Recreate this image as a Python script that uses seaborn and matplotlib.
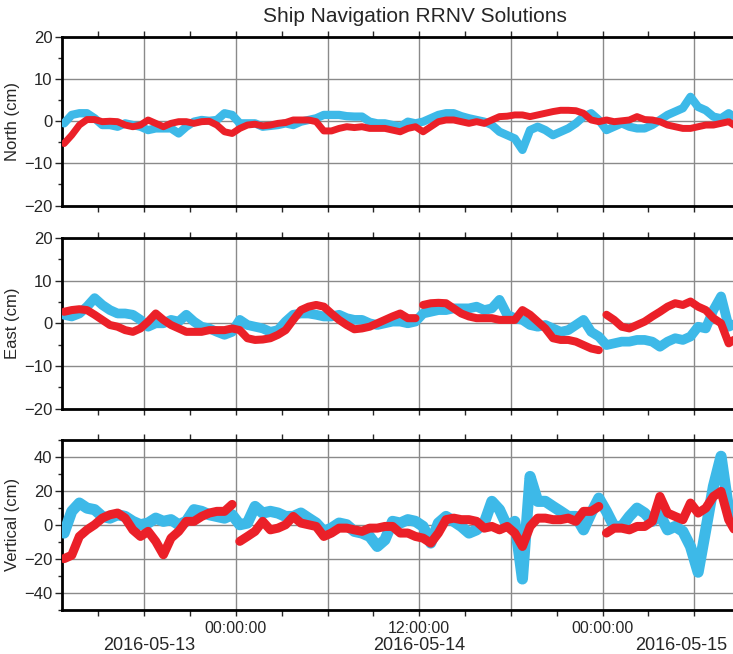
import matplotlib
matplotlib.use('Agg')
import matplotlib.pyplot as plt
import matplotlib.dates as mdates
import matplotlib.transforms as mtrans
from matplotlib.ticker import MultipleLocator, FuncFormatter
import seaborn as sns
import pandas as pd
import numpy as np

# samples every 30 min
times = pd.date_range('2016-05-13 12:45', periods=89, freq='30min')

# places where the red solution restarts with a jump, per panel
red_breaks = [[],
              ['2016-05-14 12:00', '2016-05-15 00:00'],
              ['2016-05-14 00:00', '2016-05-15 00:00']]

north_cyan = [-0.5, 1.5, 1.9, 1.9, 0.7, -0.9, -0.9, -1.3, -0.5, -0.9, -1.3, -2.1, -1.7, -1.7, -1.7,
              -2.9, -1.3, -0.1, 0.3, 0.1, 0.3, 1.9, 1.5, -0.5, -0.5, -0.5, -1.3, -1.1, -0.9, -0.5,
              -0.9, -0.1, 0.3, 0.7, 1.5, 1.5, 1.5, 1.2, 1.1, 1.1, -0.1, -0.5, -0.5, -0.9, -1.3,
              -0.1, -0.5, -0.1, 0.7, 1.5, 1.9, 1.9, 1.2, 0.7, 0.3, -0.1, -0.9, -2.5, -3.3, -4.1,
              -6.8, -2.1, -1.3, -2.1, -3.3, -2.5, -1.7, -0.5, 1.1, 1.9, 0.3, -2.1, -1.3, -0.5, -1.3,
              -1.7, -1.7, -0.9, 0.3, 1.5, 2.3, 3.1, 5.8, 3.4, 2.6, 1.1, 0.7, 1.9, 0.7]
north_red = [-5.3, -3.3, -0.9, 0.4, 0.4, -0.1, 0.0, -0.1, -0.9, -1.3, -0.9, 0.3, -0.5, -1.3, -0.5,
             -0.1, -0.1, -0.5, -0.1, 0.0, -0.9, -2.5, -2.9, -1.7, -0.9, -0.7, -1.1, -0.9, -0.5, -0.3,
             0.3, 0.3, 0.3, -0.1, -2.3, -2.3, -1.7, -1.3, -1.5, -1.3, -1.7, -1.7, -1.7, -2.1, -2.5,
             -1.7, -1.3, -2.5, -1.3, -0.1, 0.3, 0.3, -0.1, -0.5, -0.1, -0.5, 0.3, 1.1, 1.2, 1.5,
             1.5, 1.1, 1.5, 1.9, 2.3, 2.6, 2.6, 2.5, 1.9, 0.3, -0.1, 0.3, -0.1, 0.1, 0.3,
             1.1, 0.4, 0.3, -0.1, -0.9, -1.3, -1.7, -1.7, -1.3, -0.9, -0.9, -0.5, -0.1, -1.3]

east_cyan = [2.0, 1.6, 2.3, 3.9, 5.9, 4.3, 3.1, 2.3, 2.3, 2.0, 0.8, -0.8, 0.0, 0.0, 0.8,
             0.4, 2.0, 0.4, -0.8, -1.2, -2.0, -2.7, -2.0, 0.8, -0.4, -0.8, -1.2, -2.0, -1.6, 0.4,
             2.0, 2.3, 2.3, 2.0, 1.6, 1.6, 2.0, 1.2, 0.8, 0.8, 0.0, -0.4, 0.0, 0.4, 0.4,
             0.0, 0.4, 2.3, 2.7, 3.1, 3.1, 3.5, 3.5, 3.5, 3.9, 3.1, 3.5, 5.5, 2.0, 1.2,
             0.8, -0.4, -0.8, -0.4, -1.2, -2.0, -1.6, -0.4, 0.8, -2.0, -3.1, -5.1, -4.7, -4.3, -4.3,
             -3.9, -3.9, -4.3, -5.5, -4.3, -3.5, -3.9, -3.1, -0.8, -1.2, 3.1, 6.3, -0.8, 0.0]
east_red = [2.7, 3.1, 3.3, 3.1, 2.0, 0.8, -0.4, -0.8, -1.6, -2.0, -1.2, 0.4, 2.3, 0.8, -0.4,
            -1.2, -2.0, -2.0, -2.0, -1.6, -1.6, -1.6, -1.2, -1.6, -3.5, -3.9, -3.8, -3.5, -2.7, -1.6,
            0.8, 3.1, 3.9, 4.3, 3.9, 2.3, 0.8, -0.4, -1.4, -1.2, -0.8, 0.0, 0.8, 1.6, 2.3,
            1.2, 1.2, 4.3, 4.7, 4.8, 4.7, 3.5, 2.3, 1.6, 1.2, 1.2, 1.2, 0.8, 0.8, 0.8,
            3.1, 2.0, 0.4, -1.2, -3.5, -3.9, -3.9, -4.3, -5.1, -5.9, -6.3, 2.0, 0.8, -0.8, -1.2,
            -0.4, 0.4, 1.6, 2.7, 3.9, 4.7, 4.3, 5.1, 3.9, 3.1, 1.2, 0.0, -4.7, -3.5]

vert_cyan = [-4.9, 7.9, 12.8, 9.8, 8.9, 4.9, 3.9, 5.9, 4.9, 2.0, 0.0, 1.0, 3.9, 2.0, 3.0,
             0.0, 2.0, 8.9, 7.9, 5.9, 4.9, 3.9, 5.9, 0.0, 1.0, 10.8, 6.9, 7.9, 6.9, 4.9,
             4.9, 6.9, 3.9, 1.0, -3.9, -2.0, 1.0, 0.0, -3.9, -4.9, -6.9, -12.8, -8.9, 2.0, 1.0,
             3.0, 2.0, -1.0, -10.8, 1.0, 4.9, 2.0, -1.0, -4.9, -3.0, 1.0, 13.8, 8.9, -1.0, 2.0,
             -32.0, 28.5, 13.8, 13.8, 10.8, 7.9, 4.9, 4.9, -3.0, 6.9, 15.7, 7.9, -1.0, -1.0, 4.9,
             9.8, 6.9, 2.0, 5.9, -3.0, -1.0, -3.9, -12.8, -28.0, -3.0, 22.6, 40.4, 8.9, -1.0]
vert_red = [-20.0, -18.0, -6.9, -3.0, 0.0, 3.9, 5.9, 6.9, 3.9, -3.0, -6.9, -3.9, -9.8, -17.7, -7.9,
            -3.9, 2.0, 2.0, 4.9, 6.9, 7.9, 7.9, 12.0, -9.8, -6.9, -3.9, 2.0, -3.0, -2.0, 0.0,
            4.9, 1.0, 0.0, -1.0, -6.9, -4.9, -2.0, -2.0, -3.0, -3.9, -2.0, -2.0, -1.0, -1.0, -4.9,
            -4.9, -6.9, -7.9, -10.8, -4.9, 3.0, 3.9, 3.0, 3.0, 2.0, -2.0, -1.0, -3.0, -1.0, -4.9,
            -12.8, -1.0, 3.9, 3.9, 3.0, 3.0, 3.9, 2.0, 7.9, 7.9, 10.8, -4.9, -2.0, -2.0, -3.0,
            -1.0, -1.0, 2.0, 16.7, 6.9, 4.9, 3.0, 12.8, 6.9, 9.8, 16.7, 19.7, 3.0, -4.9]

ylabels = ['North (cm)', 'East (cm)', 'Vertical (cm)']
ylims = [(-20, 20), (-20, 20), (-50, 50)]
CYAN = '#3DB9E8'
RED = '#EB2028'

sns.set_style('white')
plt.rcParams['font.family'] = ['Liberation Sans', 'DejaVu Sans']

fig = plt.figure(figsize=(7.33, 6.54), dpi=100)
W, H = 733.0, 654.0
x0, x1 = 62.3, 760.0
boxes = [(37.0, 205.5), (238.0, 408.6), (440.0, 609.5)]
axes = [fig.add_axes([x0 / W, 1 - b / H, (x1 - x0) / W, (b - t) / H]) for t, b in boxes]

xstart = pd.Timestamp('2016-05-13 12:38')
xend = pd.Timestamp('2016-05-15 10:18')

series = [(north_cyan, north_red), (east_cyan, east_red), (vert_cyan, vert_red)]
widths = [(6.0, 5.0), (7.0, 5.8), (8.0, 6.5)]
majors = [10, 10, 20]
minors = [5, 5, 10]


def time_fmt(v, pos):
    d = mdates.num2date(v)
    return d.strftime('%H:%M:%S') if d.hour in (0, 12) else ''


for i, ax in enumerate(axes):
    cyan, red = series[i]
    red_seg = np.searchsorted(pd.to_datetime(red_breaks[i]).values, times.values)
    df_c = pd.DataFrame({'time': times, 'value': cyan, 'seg': 0})
    df_r = pd.DataFrame({'time': times, 'value': red, 'seg': red_seg})
    sns.lineplot(data=df_c, x='time', y='value', units='seg', estimator=None,
                 color=CYAN, linewidth=widths[i][0], ax=ax, zorder=3)
    sns.lineplot(data=df_r, x='time', y='value', units='seg', estimator=None,
                 color=RED, linewidth=widths[i][1], ax=ax, zorder=4)

    ax.set_xlim(xstart, xend)
    ax.set_ylim(*ylims[i])
    ax.yaxis.set_major_locator(MultipleLocator(majors[i]))
    ax.yaxis.set_minor_locator(MultipleLocator(minors[i]))
    ax.xaxis.set_major_locator(mdates.HourLocator(byhour=[0, 6, 12, 18]))
    ax.xaxis.set_minor_locator(mdates.HourLocator(byhour=[3, 9, 15, 21]))
    ax.xaxis.set_major_formatter(FuncFormatter(time_fmt))

    ax.grid(True, which='major', color='#8a8a8a', linewidth=1.0, zorder=1)
    ax.set_axisbelow(True)
    for s in ax.spines.values():
        s.set_linewidth(2.0)
        s.set_color('black')

    ax.tick_params(axis='x', which='both', direction='out', length=4, width=1,
                   top=True, bottom=True, labelsize=11.5, pad=4)
    ax.tick_params(axis='y', which='major', direction='out', length=5, width=1,
                   left=True, labelsize=12, pad=2)
    ax.tick_params(axis='y', which='minor', direction='out', length=3, width=1, left=True)
    if i < 2:
        ax.tick_params(axis='x', labelbottom=False)

    ax.set_xlabel('')
    ax.set_ylabel(ylabels[i], fontsize=12)
    ax.yaxis.set_label_coords(-0.060, 0.5)

# day labels centred on the visible part of each day
ax = axes[-1]
trans = mtrans.blended_transform_factory(ax.transData, ax.transAxes)
days = [('2016-05-13', xstart, pd.Timestamp('2016-05-14')),
        ('2016-05-14', pd.Timestamp('2016-05-14'), pd.Timestamp('2016-05-15')),
        ('2016-05-15', pd.Timestamp('2016-05-15'), xend)]
for label, a, b in days:
    mid = a + (b - a) / 2
    ax.text(mdates.date2num(mid), -0.21, label, transform=trans, ha='center',
            va='center', fontsize=13)

fig.text(414.5 / W, 1 - 17 / H, 'Ship Navigation RRNV Solutions', ha='center',
         va='center', fontsize=15)

fig.savefig('out.png', dpi=100)
